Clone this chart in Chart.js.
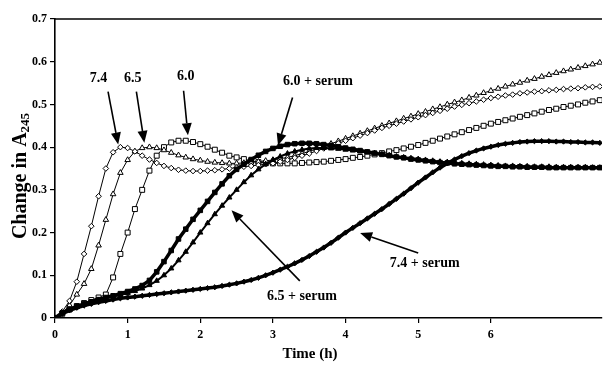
<!DOCTYPE html>
<html>
<head>
<meta charset="utf-8">
<script src="https://cdn.jsdelivr.net/npm/chart.js@4"></script>
<style>
  body { margin: 0; background: #fff; }
  #wrap { width: 607px; height: 376px; }
</style>
</head>
<body>
<div id="wrap"><canvas id="myChart" width="607" height="376"></canvas></div>
<script>
// time points (h)
const times = [0, 0.1, 0.2, 0.3, 0.4, 0.5, 0.6, 0.7, 0.8, 0.9,
  1.0, 1.1, 1.2, 1.3, 1.4, 1.5, 1.6, 1.7, 1.8, 1.9,
  2.0, 2.1, 2.2, 2.3, 2.4, 2.5, 2.6, 2.7, 2.8, 2.9,
  3.0, 3.1, 3.2, 3.3, 3.4, 3.5, 3.6, 3.7, 3.8, 3.9,
  4.0, 4.1, 4.2, 4.3, 4.4, 4.5, 4.6, 4.7, 4.8, 4.9,
  5.0, 5.1, 5.2, 5.3, 5.4, 5.5, 5.6, 5.7, 5.8, 5.9,
  6.0, 6.1, 6.2, 6.3, 6.4, 6.5, 6.6, 6.7, 6.8, 6.9,
  7.0, 7.1, 7.2, 7.3, 7.4, 7.5];

// change in A245
const ph74 = [0, 0.015, 0.04, 0.085, 0.15, 0.215, 0.285, 0.35, 0.388, 0.4,
  0.398, 0.39, 0.38, 0.371, 0.363, 0.356, 0.351, 0.347, 0.345, 0.344,
  0.344, 0.345, 0.346, 0.348, 0.35, 0.352, 0.354, 0.356, 0.358, 0.36,
  0.362, 0.366, 0.37, 0.375, 0.38, 0.385, 0.391, 0.397, 0.403, 0.409,
  0.415, 0.421, 0.427, 0.433, 0.439, 0.445, 0.45, 0.455, 0.46, 0.465,
  0.47, 0.475, 0.48, 0.485, 0.49, 0.495, 0.499, 0.503, 0.507, 0.511,
  0.515, 0.518, 0.521, 0.523, 0.526, 0.528, 0.53, 0.531, 0.533, 0.534,
  0.536, 0.537, 0.538, 0.54, 0.541, 0.542];

const ph65 = [0, 0.012, 0.03, 0.055, 0.08, 0.115, 0.17, 0.23, 0.29, 0.34,
  0.37, 0.39, 0.398, 0.4, 0.398, 0.393, 0.387, 0.381, 0.376, 0.372,
  0.369, 0.366, 0.364, 0.363, 0.362, 0.362, 0.363, 0.364, 0.366, 0.368,
  0.37, 0.373, 0.376, 0.38, 0.385, 0.39, 0.396, 0.402, 0.408, 0.414,
  0.42, 0.426, 0.432, 0.438, 0.444, 0.45, 0.456, 0.461, 0.467, 0.472,
  0.478, 0.483, 0.489, 0.494, 0.5, 0.505, 0.51, 0.516, 0.521, 0.527,
  0.532, 0.537, 0.542, 0.547, 0.551, 0.556, 0.56, 0.565, 0.569, 0.574,
  0.578, 0.582, 0.586, 0.59, 0.594, 0.598];

const ph60 = [0, 0.01, 0.02, 0.028, 0.035, 0.042, 0.048, 0.055, 0.095, 0.15,
  0.2, 0.255, 0.3, 0.345, 0.38, 0.4, 0.411, 0.415, 0.415, 0.412,
  0.407, 0.401, 0.394, 0.387, 0.38, 0.376, 0.372, 0.368, 0.365, 0.363,
  0.362, 0.362, 0.362, 0.362, 0.363, 0.364, 0.365, 0.366, 0.368, 0.37,
  0.372, 0.375, 0.377, 0.38, 0.383, 0.386, 0.39, 0.393, 0.397, 0.401,
  0.405, 0.41, 0.415, 0.42, 0.425, 0.43, 0.435, 0.44, 0.445, 0.45,
  0.455, 0.459, 0.463, 0.467, 0.471, 0.475, 0.479, 0.483, 0.487, 0.49,
  0.494, 0.497, 0.5, 0.504, 0.507, 0.51];

const serum60 = [0, 0.012, 0.02, 0.027, 0.033, 0.038, 0.043, 0.048, 0.052, 0.057,
  0.062, 0.068, 0.076, 0.088, 0.108, 0.132, 0.158, 0.185, 0.208, 0.231,
  0.252, 0.273, 0.294, 0.314, 0.333, 0.348, 0.36, 0.371, 0.381, 0.39,
  0.397, 0.402, 0.406, 0.408, 0.409, 0.409, 0.408, 0.406, 0.404, 0.401,
  0.398, 0.395, 0.392, 0.389, 0.386, 0.383, 0.38, 0.377, 0.375, 0.372,
  0.37, 0.368, 0.366, 0.364, 0.363, 0.361, 0.36, 0.359, 0.358, 0.357,
  0.356, 0.355, 0.355, 0.354, 0.354, 0.353, 0.353, 0.353, 0.352, 0.352,
  0.352, 0.352, 0.352, 0.352, 0.352, 0.352];

const serum65 = [0, 0.011, 0.019, 0.026, 0.032, 0.037, 0.042, 0.046, 0.05, 0.054,
  0.058, 0.063, 0.069, 0.077, 0.087, 0.1, 0.116, 0.135, 0.155, 0.177,
  0.2, 0.222, 0.243, 0.263, 0.282, 0.3, 0.318, 0.334, 0.348, 0.36,
  0.37, 0.378, 0.385, 0.39, 0.394, 0.397, 0.398, 0.398, 0.397, 0.396,
  0.394, 0.392, 0.39, 0.388, 0.386, 0.383, 0.381, 0.378, 0.376, 0.374,
  0.372, 0.37, 0.368, 0.366, 0.365, 0.363, 0.362, 0.361, 0.36, 0.359,
  0.358, 0.357, 0.356, 0.356, 0.355, 0.355, 0.354, 0.354, 0.354, 0.353,
  0.353, 0.353, 0.353, 0.353, 0.352, 0.352];

const serum74 = [0, 0.01, 0.018, 0.024, 0.029, 0.033, 0.037, 0.04, 0.043, 0.046,
  0.048, 0.05, 0.052, 0.054, 0.056, 0.058, 0.06, 0.062, 0.064, 0.066,
  0.068, 0.07, 0.072, 0.075, 0.078, 0.081, 0.085, 0.089, 0.094, 0.1,
  0.106, 0.113, 0.12, 0.128, 0.136, 0.145, 0.155, 0.165, 0.176, 0.188,
  0.2, 0.211, 0.222, 0.233, 0.244, 0.255, 0.267, 0.279, 0.291, 0.304,
  0.317, 0.329, 0.341, 0.352, 0.362, 0.371, 0.379, 0.386, 0.392, 0.397,
  0.401, 0.405, 0.408, 0.41, 0.412, 0.413, 0.414, 0.414, 0.414, 0.413,
  0.413, 0.412, 0.412, 0.411, 0.411, 0.41];

// axis ticks
const xTicks = [0, 1, 2, 3, 4, 5, 6];
const yTicks = [0, 0.1, 0.2, 0.3, 0.4, 0.5, 0.6, 0.7];

// arrow labels (data units): text, label position, arrow tail, arrow tip
const noteText = ['7.4', '6.5', '6.0', '6.0 + serum', '6.5 + serum', '7.4 + serum'];
const noteX = [0.6, 1.07, 1.8, 3.62, 3.4, 5.09];
const noteY = [0.56, 0.56, 0.565, 0.555, 0.05, 0.128];
const tailX = [0.73, 1.12, 1.77, 3.27, 3.37, 5.0];
const tailY = [0.53, 0.53, 0.532, 0.516, 0.087, 0.152];
const tipX = [0.87, 1.23, 1.83, 3.07, 2.43, 4.2];
const tipY = [0.406, 0.41, 0.428, 0.404, 0.252, 0.199];

const SERIF = '"Liberation Serif", "Times New Roman", serif';

const pts = (vals) => vals.map((v, i) => ({ x: times[i], y: v }));

// frame, arrows, labels and axis titles
const extras = {
  id: 'extras',
  afterDatasetsDraw(chart) {
    const { ctx, chartArea, scales } = chart;
    const xs = scales.x, ys = scales.y;
    ctx.save();
    // top frame line
    ctx.strokeStyle = '#000';
    ctx.lineWidth = 1.6;
    ctx.beginPath();
    ctx.moveTo(chartArea.left, chartArea.top);
    ctx.lineTo(chartArea.right, chartArea.top);
    ctx.stroke();

    // arrows
    ctx.fillStyle = '#000';
    for (let i = 0; i < noteText.length; i++) {
      const x0 = xs.getPixelForValue(tailX[i]), y0 = ys.getPixelForValue(tailY[i]);
      const x1 = xs.getPixelForValue(tipX[i]), y1 = ys.getPixelForValue(tipY[i]);
      const ang = Math.atan2(y1 - y0, x1 - x0);
      const headLen = 12, headW = 5;
      const bx = x1 - headLen * Math.cos(ang), by = y1 - headLen * Math.sin(ang);
      ctx.lineWidth = 1.6;
      ctx.beginPath();
      ctx.moveTo(x0, y0);
      ctx.lineTo(bx, by);
      ctx.stroke();
      ctx.beginPath();
      ctx.moveTo(x1, y1);
      ctx.lineTo(bx + headW * Math.sin(ang), by - headW * Math.cos(ang));
      ctx.lineTo(bx - headW * Math.sin(ang), by + headW * Math.cos(ang));
      ctx.closePath();
      ctx.fill();

      ctx.font = 'bold 14px ' + SERIF;
      ctx.textAlign = 'center';
      ctx.textBaseline = 'middle';
      ctx.fillText(noteText[i], xs.getPixelForValue(noteX[i]), ys.getPixelForValue(noteY[i]));
    }

    // x title
    ctx.font = 'bold 15px ' + SERIF;
    ctx.textAlign = 'center';
    ctx.textBaseline = 'middle';
    ctx.fillText('Time (h)', 310, 354);

    // y title with subscript
    ctx.translate(21, 176);
    ctx.rotate(-Math.PI / 2);
    ctx.textAlign = 'left';
    ctx.textBaseline = 'middle';
    const mainFont = 'bold 20px ' + SERIF, subFont = 'bold 13px ' + SERIF;
    ctx.font = mainFont;
    const wMain = ctx.measureText('Change in A').width;
    ctx.font = subFont;
    const wSub = ctx.measureText('245').width;
    const start = -(wMain + wSub) / 2;
    ctx.font = mainFont;
    ctx.fillText('Change in A', start, 0);
    ctx.font = subFont;
    ctx.fillText('245', start + wMain, 5);
    ctx.restore();
  }
};

const ctx = document.getElementById('myChart').getContext('2d');
const myChart = new Chart(ctx, {
  type: 'line',
  data: {
    datasets: [
      {
        label: '7.4 + serum', data: pts(serum74),
        borderColor: '#000', borderWidth: 3.5,
        pointStyle: 'rectRot', pointRadius: 2.6,
        pointBackgroundColor: '#000', pointBorderColor: '#000', pointBorderWidth: 1
      },
      {
        label: '6.5 + serum', data: pts(serum65),
        borderColor: '#000', borderWidth: 2,
        pointStyle: 'triangle', pointRadius: 3,
        pointBackgroundColor: '#000', pointBorderColor: '#000', pointBorderWidth: 1
      },
      {
        label: '6.0 + serum', data: pts(serum60),
        borderColor: '#000', borderWidth: 3.5,
        pointStyle: 'rect', pointRadius: 3.2,
        pointBackgroundColor: '#000', pointBorderColor: '#000', pointBorderWidth: 1
      },
      {
        label: '7.4', data: pts(ph74),
        borderColor: '#000', borderWidth: 1,
        pointStyle: 'rectRot', pointRadius: 2.8,
        pointBackgroundColor: '#fff', pointBorderColor: '#000', pointBorderWidth: 1
      },
      {
        label: '6.5', data: pts(ph65),
        borderColor: '#000', borderWidth: 1,
        pointStyle: 'triangle', pointRadius: 3.2,
        pointBackgroundColor: '#fff', pointBorderColor: '#000', pointBorderWidth: 1
      },
      {
        label: '6.0', data: pts(ph60),
        borderColor: '#000', borderWidth: 1,
        pointStyle: 'rect', pointRadius: 3.5,
        pointBackgroundColor: '#fff', pointBorderColor: '#000', pointBorderWidth: 1
      }
    ]
  },
  options: {
    responsive: false,
    devicePixelRatio: 1,
    animation: false,
    layout: { padding: { top: 19, right: 0, left: 0, bottom: 0 } },
    plugins: {
      legend: { display: false },
      tooltip: { enabled: false }
    },
    elements: { line: { tension: 0 } },
    scales: {
      x: {
        type: 'linear',
        min: 0,
        max: 7.53,
        afterFit(s) { s.height = 58; },
        afterBuildTicks(s) { s.ticks = xTicks.map(v => ({ value: v })); },
        ticks: {
          color: '#000',
          font: { family: SERIF, weight: 'bold', size: 12 },
          padding: 5,
          maxRotation: 0,
          autoSkip: false
        },
        grid: { display: true, drawOnChartArea: false, drawTicks: true, tickLength: 5, color: '#000', lineWidth: 1.2 },
        border: { display: true, color: '#000', width: 1.6 }
      },
      y: {
        min: 0,
        max: 0.7,
        afterFit(s) { s.width = 55; },
        afterBuildTicks(s) { s.ticks = yTicks.map(v => ({ value: v })); },
        ticks: {
          color: '#000',
          font: { family: SERIF, weight: 'bold', size: 12 },
          padding: 3,
          callback: (v) => (v === 0 ? '0' : v.toFixed(1))
        },
        grid: { display: true, drawOnChartArea: false, drawTicks: true, tickLength: 5, color: '#000', lineWidth: 1.2 },
        border: { display: true, color: '#000', width: 1.6 }
      }
    }
  },
  plugins: [extras]
});
</script>
</body>
</html>
